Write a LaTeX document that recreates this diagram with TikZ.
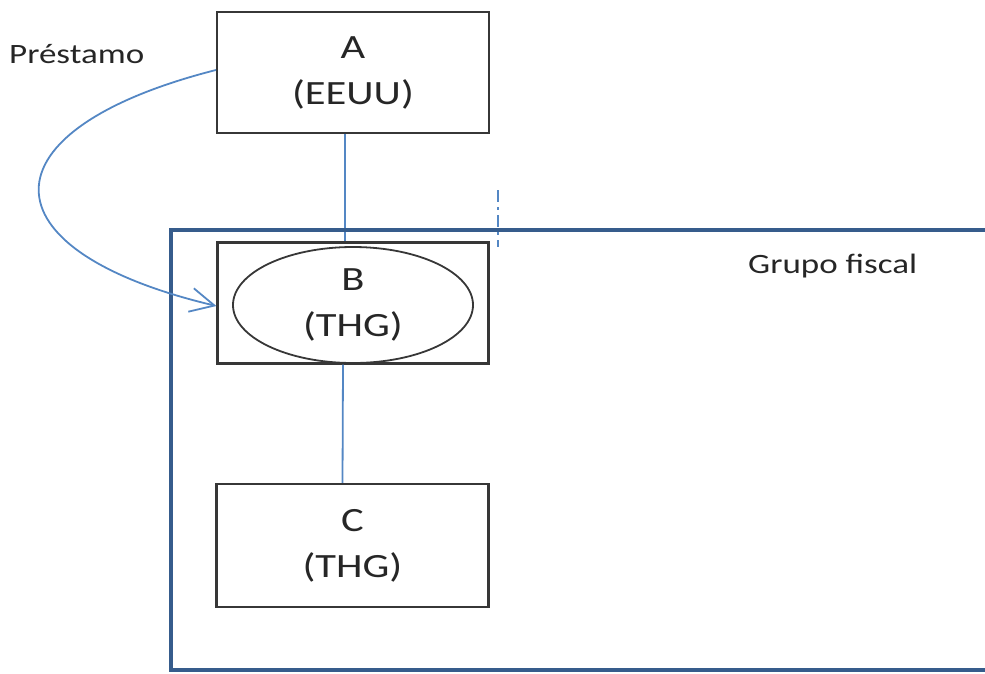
\documentclass[tikz,border=0pt]{standalone}
\usepackage{fontspec}
\setmainfont{Carlito}[FakeStretch=1.25]
\usetikzlibrary{arrows.meta,shapes.geometric}
\definecolor{linkblue}{RGB}{84,135,196}
\definecolor{groupblue}{RGB}{54,92,140}
\definecolor{boxgray}{RGB}{55,55,55}
\begin{document}
\begin{tikzpicture}[x=1pt,y=-1pt,
  entity/.style={draw=boxgray,line width=2.2pt,rectangle,minimum width=272pt,minimum height=121pt,inner sep=0pt,
    align=center,font=\fontsize{34}{46}\selectfont,text=black!85},
  oval/.style={draw=boxgray,line width=1.8pt,ellipse,minimum width=240pt,minimum height=116pt,inner sep=0pt,
    align=center,font=\fontsize{34}{46}\selectfont,text=black!85},
  label/.style={font=\fontsize{28}{34}\selectfont,text=black!85,inner sep=0pt},
  link/.style={draw=linkblue,line width=1.8pt},
  group/.style={draw=groupblue,line width=4pt}]
\useasboundingbox (0,0) rectangle (985,673);
% nodes
\node[entity] (A) at (353,72.5) {A\\(EEUU)};
\node[entity,minimum width=271pt] (B) at (353,303) {};
\node[oval] (Bell) at (353,305) {B\\(THG)};
\node[entity,minimum height=123pt] (C) at (352.5,545.5) {C\\(THG)};
\node[label,anchor=base west] (prest) at (9,63) {Préstamo};
\node[label,anchor=base west] (grupo) at (748,273) {Grupo fiscal};
% connectors
\draw[link] ([xshift=-8pt]A.south) -- ([xshift=-8pt]B.north);
\draw[link] ([xshift=-10pt]B.south) -- ([xshift=-10pt]C.north);
% group frame
\coordinate (gtr) at (990,230);
\coordinate (gtl) at (171,230);
\coordinate (gbl) at (171,670);
\coordinate (gbr) at (990,670);
\draw[group] (gtr) -- (gtl) -- (gbl) -- (gbr);
% loan arrow
\draw[link,-{Straight Barb[length=24pt,width=24pt,line width=1.8pt]}]
  ([yshift=2.5pt]A.west) .. controls (-20,130) and (-20,250) .. ([yshift=-3pt]B.west);
% small dash-dot mark
\coordinate (d1) at (498,190);
\coordinate (d2) at (498,247);
\draw[link,line width=1.5pt,dash pattern=on 12pt off 5pt on 3pt off 5pt] (d1) -- (d2);
\end{tikzpicture}
\end{document}
